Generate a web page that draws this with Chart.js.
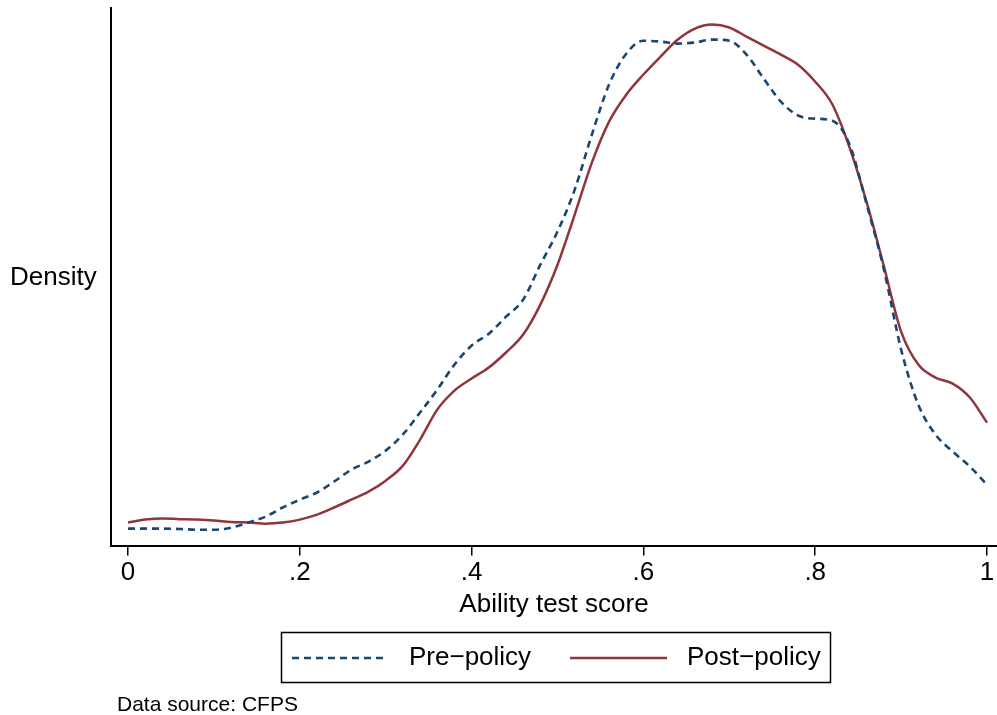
<!DOCTYPE html>
<html>
<head>
<meta charset="utf-8">
<script src="https://cdn.jsdelivr.net/npm/chart.js@4.4.1/dist/chart.umd.min.js"></script>
<style>
  html, body { margin: 0; padding: 0; background: #fff; }
  #wrap { position: relative; width: 997px; height: 715px; }
</style>
</head>
<body>
<div id="wrap"><canvas id="densityChart"></canvas></div>
<script>
// kernel density of ability test score, grid of 0.02
const scoreGrid = [0, 0.02, 0.04, 0.06, 0.08, 0.10, 0.12, 0.14, 0.16, 0.18,
  0.20, 0.22, 0.24, 0.26, 0.28, 0.30, 0.32, 0.34, 0.36, 0.38,
  0.40, 0.42, 0.44, 0.46, 0.48, 0.50, 0.52, 0.54, 0.56, 0.58,
  0.60, 0.62, 0.64, 0.66, 0.68, 0.70, 0.72, 0.74, 0.76, 0.78,
  0.80, 0.82, 0.84, 0.86, 0.88, 0.90, 0.92, 0.94, 0.96, 0.98, 1.00];

const prePolicy = [0.076, 0.076, 0.076, 0.074, 0.071, 0.071, 0.080, 0.103, 0.129, 0.170,
  0.205, 0.237, 0.286, 0.339, 0.375, 0.424, 0.496, 0.594, 0.696, 0.808,
  0.893, 0.946, 1.022, 1.098, 1.254, 1.402, 1.589, 1.835, 2.058, 2.196,
  2.254, 2.250, 2.241, 2.246, 2.259, 2.254, 2.192, 2.085, 1.982, 1.920,
  1.906, 1.897, 1.790, 1.522, 1.232, 0.875, 0.629, 0.496, 0.420, 0.353, 0.272];

const postPolicy = [0.103, 0.116, 0.121, 0.118, 0.116, 0.112, 0.105, 0.103, 0.098, 0.103,
  0.116, 0.138, 0.170, 0.205, 0.241, 0.290, 0.357, 0.473, 0.607, 0.692,
  0.746, 0.795, 0.862, 0.942, 1.076, 1.254, 1.478, 1.710, 1.893, 2.013,
  2.103, 2.183, 2.259, 2.308, 2.326, 2.313, 2.272, 2.232, 2.192, 2.147,
  2.071, 1.969, 1.777, 1.531, 1.246, 0.955, 0.808, 0.750, 0.723, 0.661, 0.549];

const xTickValues = [0, 0.2, 0.4, 0.6, 0.8, 1];
const xTickLabels = ['0', '.2', '.4', '.6', '.8', '1'];
const seriesNames = ['Pre\u2212policy', 'Post\u2212policy'];

const FONT = "'Liberation Sans', Arial, Helvetica, sans-serif";
const NAVY = '#1a476f';
const MAROON = '#90353b';

function toPoints(ys) {
  return scoreGrid.map((x, i) => ({ x: x, y: ys[i] }));
}

// horizontal y title, boxed legend and source note, Stata style
const extras = {
  id: 'extras',
  afterDraw(chart) {
    const ctx = chart.ctx;
    const area = chart.chartArea;
    ctx.save();
    ctx.fillStyle = '#000';
    ctx.textBaseline = 'middle';

    ctx.font = '26px ' + FONT;
    ctx.textAlign = 'left';
    ctx.fillText('Density', 10, (area.top + area.bottom) / 2 + 1);

    // legend box
    ctx.strokeStyle = '#000';
    ctx.lineWidth = 1.5;
    ctx.strokeRect(281.5, 632.5, 549, 50);

    const ly = 658;
    const items = [
      { x0: 292, x1: 388, tx: 409 },
      { x0: 570, x1: 667, tx: 687 }
    ];
    items.forEach((it, i) => {
      const ds = chart.data.datasets[i];
      ctx.save();
      ctx.strokeStyle = ds.borderColor;
      ctx.lineWidth = ds.borderWidth;
      ctx.setLineDash(ds.borderDash || []);
      ctx.beginPath();
      ctx.moveTo(it.x0, ly);
      ctx.lineTo(it.x1, ly);
      ctx.stroke();
      ctx.restore();
      ctx.fillText(ds.label, it.tx, ly);
    });

    ctx.font = '21px ' + FONT;
    ctx.fillText('Data source: CFPS', 117, 705);
    ctx.restore();
  }
};

new Chart(document.getElementById('densityChart'), {
  type: 'line',
  data: {
    datasets: [
      {
        label: seriesNames[0],
        data: toPoints(prePolicy),
        borderColor: NAVY,
        borderWidth: 2.6,
        borderDash: [7, 5],
        pointRadius: 0,
        fill: false,
        cubicInterpolationMode: 'monotone'
      },
      {
        label: seriesNames[1],
        data: toPoints(postPolicy),
        borderColor: MAROON,
        borderWidth: 2.5,
        pointRadius: 0,
        fill: false,
        cubicInterpolationMode: 'monotone'
      }
    ]
  },
  options: {
    responsive: true,
    maintainAspectRatio: false,
    animation: false,
    layout: { padding: { left: 111, right: 0, top: 8, bottom: 95 } },
    plugins: {
      legend: { display: false },
      tooltip: { enabled: false }
    },
    scales: {
      x: {
        type: 'linear',
        min: -0.0198,
        max: 1.0116,
        afterBuildTicks: (scale) => {
          scale.ticks = xTickValues.map(v => ({ value: v }));
        },
        ticks: {
          color: '#000',
          font: { family: FONT, size: 26 },
          padding: 2,
          autoSkip: false,
          maxRotation: 0,
          callback: (value) => xTickLabels[xTickValues.indexOf(value)]
        },
        grid: {
          drawOnChartArea: false,
          drawTicks: true,
          tickLength: 10,
          color: '#000',
          lineWidth: 1.5
        },
        border: { display: true, color: '#000', width: 2 },
        title: {
          display: true,
          text: 'Ability test score',
          color: '#000',
          font: { family: FONT, size: 26 },
          padding: { top: -2, bottom: 0 }
        }
      },
      y: {
        min: 0,
        max: 2.4,
        ticks: { display: false },
        grid: { display: false, drawTicks: false },
        border: { display: true, color: '#000', width: 2 }
      }
    }
  },
  plugins: [extras]
});
</script>
</body>
</html>
